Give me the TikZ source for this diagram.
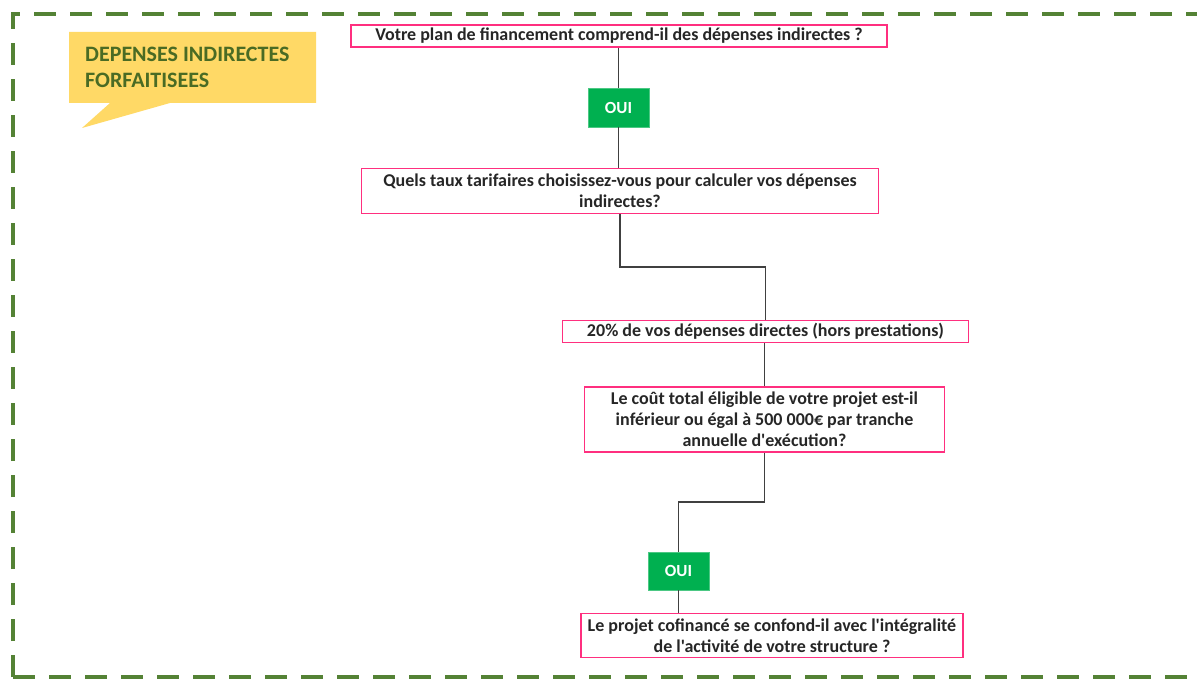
\documentclass[tikz,border=0pt]{standalone}
\usepackage{fontspec}
\setmainfont{Carlito}[Ligatures=TeXOff]
\usetikzlibrary{calc}
\definecolor{framegreen}{HTML}{548235}
\definecolor{boxpink}{HTML}{FF2F7F}
\definecolor{ouigreen}{HTML}{00B050}
\definecolor{calloutyellow}{HTML}{FFD966}
\definecolor{callouttext}{HTML}{4A6B24}
\definecolor{linkgray}{HTML}{404040}
\tikzset{
  qbox/.style={draw=boxpink, line width=1.5bp, fill=white, align=center,
    font=\fontsize{18bp}{21bp}\selectfont\bfseries, inner sep=0pt, text=black!85},
  ouibox/.style={fill=ouigreen, draw=ouigreen!70!white, line width=0.8bp, text=white,
    font=\fontsize{17bp}{18bp}\selectfont\bfseries, inner sep=0pt},
  link/.style={draw=linkgray, line width=1.5bp},
  frame/.style={draw=framegreen, line width=4bp, dash pattern=on 22bp off 14bp}
}
\begin{document}
\begin{tikzpicture}[x=1bp, y=-1bp]
\useasboundingbox (0,0) rectangle (1197,680);
% dashed frame
\draw[frame] (13,677) -- (13,14) -- (1215,14);
\draw[frame] (13,677) -- (1215,677);
% callout
\fill[calloutyellow] (69,32) -- (316,32) -- (316,103) -- (170,103) -- (82,128) -- (110,103) -- (69,103) -- cycle;
\node[anchor=west, align=left, text=callouttext, inner sep=0pt,
  font=\fontsize{22bp}{26bp}\selectfont\bfseries] (title) at (85,67)
  {DEPENSES INDIRECTES\\FORFAITISEES};
% nodes
\node[qbox, minimum width=536bp, minimum height=22bp] (b1) at (619,36)
  {Votre plan de financement comprend-il des dépenses indirectes ?};
\node[ouibox, minimum width=61bp, minimum height=39bp] (o1) at (618.5,107.5) {OUI};
\node[qbox, minimum width=517bp, minimum height=45bp] (b2) at (620,191)
  {Quels taux tarifaires choisissez-vous pour calculer vos dépenses\\indirectes?};
\node[qbox, minimum width=406bp, minimum height=22bp] (b3) at (765.5,331.5)
  {20\% de vos dépenses directes (hors prestations)};
\node[qbox, minimum width=360bp, minimum height=65bp] (b4) at (764.5,419.5)
  {Le coût total éligible de votre projet est-il\\inférieur ou égal à 500 000€ par tranche\\annuelle d'exécution?};
\node[ouibox, minimum width=61bp, minimum height=38bp] (o2) at (678.5,571) {OUI};
\node[qbox, minimum width=382bp, minimum height=44bp] (b5) at (772,635.5)
  {Le projet cofinancé se confond-il avec l'intégralité\\de l'activité de votre structure ?};
% connectors
\draw[link] (b1.south -| o1.north) -- (o1.north);
\draw[link] (o1.south) -- (o1.south |- b2.north);
\draw[link] (b2.south) |- ($(b2.south)!0.5!(b3.north)$) -| (b3.north);
\draw[link] (b3.south -| b4.north) -- (b4.north);
\draw[link] (b4.south) |- ($(b4.south)!0.5!(o2.north)$) -| (o2.north);
\draw[link] (o2.south) -- (o2.south |- b5.north);
\end{tikzpicture}
\end{document}
